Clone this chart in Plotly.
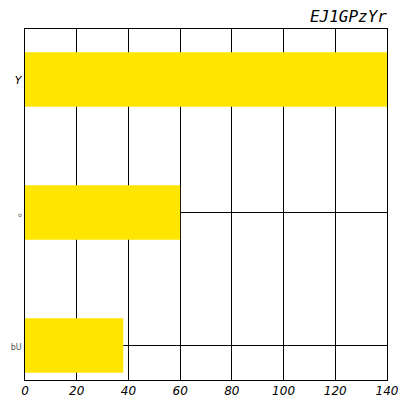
import plotly.graph_objects as go

categories = ["bU", "o", "Y"]
values = [38, 60, 140]
tick_labels = ["<span style='font-size:8px;fill:#555'>bU</span>",
               "<span style='font-size:6px;fill:#555'>o</span>",
               "<span style='font-size:11px'><i>Y</i></span>"]
x_ticks = [0, 20, 40, 60, 80, 100, 120, 140]

W = H = 390  # page body has an 8px margin

fig = go.Figure(go.Bar(
    y=list(range(len(categories))), x=values, orientation="h",
    marker=dict(color="#FFE600", line=dict(width=0)), width=0.41,
))

fig.update_layout(
    width=W, height=H,
    margin=dict(l=17, r=11, t=21, b=18, autoexpand=False),
    paper_bgcolor="white", plot_bgcolor="white",
    showlegend=False,
    title=dict(text="<i>EJ1GPzYr</i>", x=379 / W, xanchor="right",
               y=1 - 8.5 / H, yanchor="middle", automargin=False,
               font=dict(family="DejaVu Sans Mono", size=16, color="black")),
    font=dict(family="DejaVu Sans", color="black"),
)
fig.update_xaxes(
    range=[0, 140], tickvals=x_ticks, ticktext=[f"<i>{v}</i>" for v in x_ticks],
    tickfont=dict(size=12, color="black"), automargin=False,
    ticklabeloverflow="allow",
    showgrid=True, gridcolor="black", gridwidth=1,
    showline=True, linecolor="black", linewidth=1, mirror=True,
    zeroline=False, ticks="",
)
fig.update_yaxes(
    range=[-0.26, 2.38], tickvals=list(range(len(categories))), ticktext=tick_labels,
    tickfont=dict(color="black"), automargin=False,
    showgrid=True, gridcolor="black", gridwidth=1,
    showline=True, linecolor="black", linewidth=1, mirror=True,
    zeroline=False, ticks="",
)

fig.write_html("out.html")
